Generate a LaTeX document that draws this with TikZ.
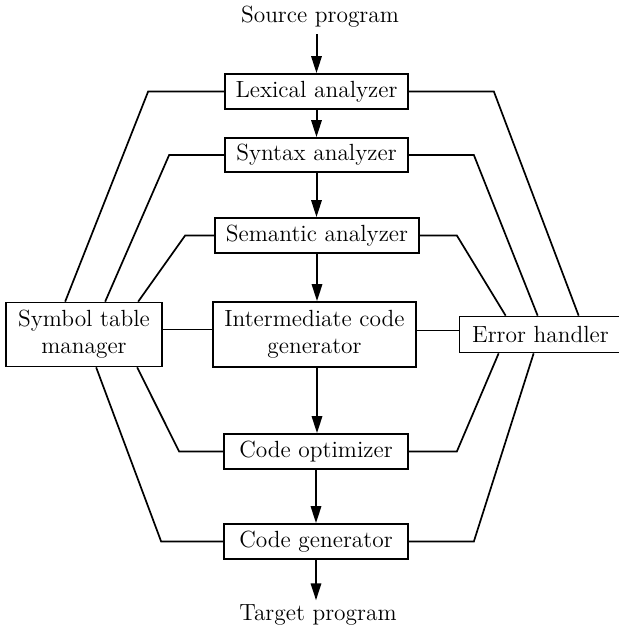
\documentclass[tikz,border=0pt]{standalone}
\usetikzlibrary{arrows.meta,calc}
\begin{document}
\begin{tikzpicture}[x=0.5pt,y=-0.5pt,
  txt/.style={font=\fontsize{11.7}{13.5}\selectfont},
  box/.style={txt, draw, line width=0.85pt, inner sep=0pt, align=center},
  lbl/.style={txt, inner sep=0pt},
  flow/.style={line width=1pt, -{Triangle[length=8.5pt,width=5.2pt]}},
  link/.style={line width=0.85pt, line join=miter}]
\useasboundingbox (0,0) rectangle (618,626);

% nodes
\node[lbl] (src) at (320,17) {Source program};
\node[box, minimum width=91.5pt, minimum height=17.5pt] (lex) at (316.5,91.5) {Lexical analyzer};
\node[box, minimum width=91.5pt, minimum height=17pt] (syn) at (316.5,155) {Syntax analyzer};
\node[box, minimum width=102pt, minimum height=17.5pt] (sem) at (317,235.5) {Semantic analyzer};
\node[box, minimum width=101.5pt, minimum height=32.5pt] (icg) at (314.5,334.5) {Intermediate code\\generator};
\node[box, minimum width=78pt, minimum height=32pt] (sym) at (84,334.5) {Symbol table\\manager};
\node[box, minimum width=81pt, minimum height=18pt] (err) at (540.5,334.5) {Error handler};
\node[box, minimum width=92pt, minimum height=17.5pt] (opt) at (316,451.5) {Code optimizer};
\node[box, minimum width=92pt, minimum height=17.5pt] (gen) at (316,541.5) {Code generator};
\node[lbl] (tgt) at (318,615) {Target program};

% main flow
\draw[flow, shorten <=3pt] (lex.north |- src.south) -- (lex.north);
\draw[flow] (lex.south) -- (syn.north);
\draw[flow] (syn.south) -- (syn.south |- sem.north);
\draw[flow] (sem.south) -- (sem.south |- icg.north);
\draw[flow] (icg.south -| sem.south) -- (sem.south |- opt.north);
\draw[flow] (opt.south) -- (gen.north);
\draw[flow, shorten >=2pt] (gen.south) -- (gen.south |- tgt.north);

% links to symbol table manager
\draw[link] (lex.west) -- ++(-76,0) -- ($(sym.north west)+(60,0)$);
\draw[link] (syn.west) -- ++(-55,0) -- ($(sym.north west)+(100,0)$);
\draw[link] (sem.west) -- ++(-29,0) -- ($(sym.north west)+(133,0)$);
\draw[link] ($(sym.east)+(0,-5)$) -- ($(icg.west)+(0,-5)$);
\draw[link] ($(sym.south west)+(132,0)$) -- ($(opt.west)+(-44,0)$) -- (opt.west);
\draw[link] ($(sym.south west)+(91,0)$) -- ($(gen.west)+(-62,0)$) -- (gen.west);

% links to error handler
\draw[link] (lex.east) -- ++(85,0) -- ($(err.north west)+(120,0)$);
\draw[link] (syn.east) -- ++(65,0) -- ($(err.north west)+(79,0)$);
\draw[link] (sem.east) -- ++(37,0) -- ($(err.north west)+(47,0)$);
\draw[link] ($(icg.east)+(0,-4)$) -- ($(err.west)+(0,-4)$);
\draw[link] ($(err.south west)+(40,0)$) -- ($(opt.east)+(48,0)$) -- (opt.east);
\draw[link] ($(err.south west)+(75,0)$) -- ($(gen.east)+(65,0)$) -- (gen.east);
\end{tikzpicture}
\end{document}
